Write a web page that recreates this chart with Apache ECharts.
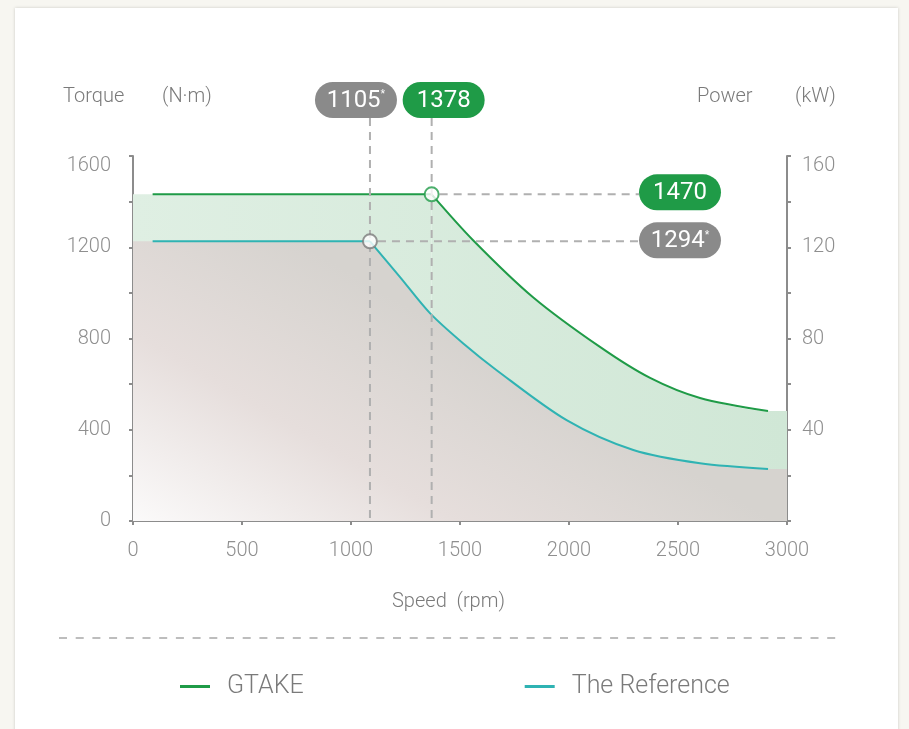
<!DOCTYPE html>
<html>
<head>
<meta charset="utf-8">
<script src="https://cdn.jsdelivr.net/npm/echarts@6/dist/echarts.min.js"></script>
<style>
  html, body { margin: 0; padding: 0; width: 909px; height: 729px; overflow: hidden; background: #f7f6f1; }
  #card { position: absolute; left: 15px; top: 8px; width: 883px; height: 740px; background: #fff; box-shadow: 0 0 3px rgba(0, 0, 0, 0.18); }
  #chart { position: absolute; left: 0; top: 0; width: 909px; height: 729px; }
</style>
</head>
<body>
<div id="card"></div>
<div id="chart"></div>
<script>
// GTAKE curve: speed (rpm) / torque (N·m), index 1 = corner point
const gtakeSpeed = [90, 1370, 1560, 1835, 2142, 2372, 2601, 2913]
const gtakeTorque = [1432, 1432, 1231, 981, 763, 627, 539, 482]

// reference curve
const refSpeed = [90, 1087, 1225, 1362, 1515, 1668, 1989, 2295, 2601, 2913]
const refTorque = [1226, 1226, 1069, 911, 778, 661, 442, 311, 253, 228]

// callout labels (corner speed / rated value)
const gtakeLabels = ['1378', '1470']
const refLabels = ['1105{s|*}', '1294{s|*}']

const seriesNames = ['GTAKE', 'The Reference']

const GREEN = '#1f9b47'
const TEAL = '#2fb3b3'
const GREY_PILL = '#8a8a8a'
const FONT = 'Roboto'

const SPEED_MAX = 3000
const TORQUE_MAX = 1600
const SMOOTH = 0.3

function pairs(xs, ys) {
  return xs.map((x, i) => [x, ys[i]])
}

// flat part: from the axis to the corner
function flatPart(xs, ys, withAxis) {
  const p = pairs(xs, ys).slice(0, 2)
  return withAxis ? [[0, ys[0]]].concat(p) : p
}

// falling part: from the corner on
function curvePart(xs, ys, withAxis) {
  const p = pairs(xs, ys).slice(1)
  return withAxis ? p.concat([[SPEED_MAX, ys[ys.length - 1]]]) : p
}

const chart = echarts.init(document.getElementById('chart'))

const axisLineStyle = { color: '#8c8c8c', width: 2 }
const labelStyle = { color: '#8f8f8f', fontSize: 20, fontWeight: 300, fontFamily: FONT }

function areaSeries(id, data, smooth, z) {
  return {
    id: id,
    type: 'line',
    data: data,
    smooth: smooth,
    symbol: 'none',
    lineStyle: { width: 0 },
    areaStyle: { opacity: 1 },
    silent: true,
    z: z
  }
}

function lineSeries(name, data, smooth, color) {
  return {
    name: name,
    type: 'line',
    data: data,
    smooth: smooth,
    showSymbol: false,
    itemStyle: { color: color },
    lineStyle: { color: color, width: 2 },
    z: 3
  }
}

const topRich = { top: { fontSize: 20, fontWeight: 300, color: '#8f8f8f', padding: [20, 0, 0, 0] } }

const option = {
  animation: false,
  textStyle: { fontFamily: FONT },
  grid: { left: 133, right: 122, top: 156, bottom: 208, containLabel: false },
  legend: {
    data: seriesNames,
    left: 175,
    top: 669,
    icon: 'rect',
    itemWidth: 30,
    itemHeight: 3,
    itemGap: 221,
    selectedMode: false,
    textStyle: { color: '#7a7a7a', fontSize: 25, fontWeight: 300, fontFamily: FONT, padding: [0, 0, 0, 12] }
  },
  xAxis: {
    type: 'value',
    min: 0,
    max: SPEED_MAX,
    interval: 500,
    axisLine: { show: true, lineStyle: axisLineStyle },
    axisTick: { show: true, length: 4, lineStyle: axisLineStyle },
    splitLine: { show: false },
    axisLabel: Object.assign({ margin: 20, formatter: v => String(v) }, labelStyle)
  },
  yAxis: [
    {
      type: 'value',
      min: 0,
      max: TORQUE_MAX,
      interval: 200,
      axisLine: { show: true, lineStyle: axisLineStyle },
      axisTick: { show: true, length: 4, lineStyle: axisLineStyle },
      splitLine: { show: false },
      axisLabel: Object.assign({
        margin: 22,
        formatter: v => (v % 400 !== 0 ? '' : v === TORQUE_MAX ? '{top|' + v + '}' : String(v)),
        rich: topRich
      }, labelStyle)
    },
    {
      type: 'value',
      position: 'right',
      min: 0,
      max: 160,
      interval: 20,
      axisLine: { show: true, onZero: false, lineStyle: axisLineStyle },
      axisTick: { show: true, length: 4, lineStyle: axisLineStyle },
      splitLine: { show: false },
      axisLabel: Object.assign({
        margin: 15,
        formatter: v => (v % 40 !== 0 || v === 0 ? '' : v === 160 ? '{top|' + v + '}' : String(v)),
        rich: topRich
      }, labelStyle)
    }
  ],
  series: [
    areaSeries('gArea0', flatPart(gtakeSpeed, gtakeTorque, true), false, 1),
    areaSeries('gArea1', curvePart(gtakeSpeed, gtakeTorque, true), SMOOTH, 1),
    areaSeries('rArea0', flatPart(refSpeed, refTorque, true), false, 2),
    areaSeries('rArea1', curvePart(refSpeed, refTorque, true), SMOOTH, 2),
    lineSeries(seriesNames[0], flatPart(gtakeSpeed, gtakeTorque), false, GREEN),
    lineSeries(seriesNames[0], curvePart(gtakeSpeed, gtakeTorque), SMOOTH, GREEN),
    lineSeries(seriesNames[1], flatPart(refSpeed, refTorque), false, TEAL),
    lineSeries(seriesNames[1], curvePart(refSpeed, refTorque), SMOOTH, TEAL),
    {
      name: 'corners',
      type: 'scatter',
      symbolSize: 14,
      data: [
        { value: [gtakeSpeed[1], gtakeTorque[1]], itemStyle: { color: '#fff', borderColor: GREEN, borderWidth: 2 } },
        { value: [refSpeed[1], refTorque[1]], itemStyle: { color: '#fff', borderColor: '#7a7a7a', borderWidth: 2 } }
      ],
      z: 10
    }
  ]
}

chart.setOption(option)

// 坐标换算
const toPx = v => chart.convertToPixel({ xAxisIndex: 0, yAxisIndex: 0 }, v)
const g = toPx([gtakeSpeed[1], gtakeTorque[1]])
const r = toPx([refSpeed[1], refTorque[1]])
const origin = toPx([0, 0])
const corner = toPx([SPEED_MAX, TORQUE_MAX])
const refTop = toPx([0, refTorque[0]])

// 填充渐变按整个绘图区计算，两段面积拼接处颜色一致
const greenFill = {
  type: 'linear', global: true,
  x: origin[0], y: 0, x2: corner[0], y2: 0,
  colorStops: [{ offset: 0, color: '#dfefe3' }, { offset: 1, color: '#d0e7d6' }]
}
const greyFill = {
  type: 'linear', global: true,
  x: origin[0], y: origin[1],
  x2: origin[0] + (corner[0] - origin[0]) * 0.25, y2: refTop[1],
  colorStops: [
    { offset: 0, color: '#fbfafa' },
    { offset: 0.5, color: '#e6dedc' },
    { offset: 1, color: '#d6d3cf' }
  ]
}

function pill(cx, cy, text, color) {
  return {
    type: 'group',
    x: cx,
    y: cy,
    z: 20,
    children: [
      { type: 'rect', shape: { x: -41, y: -18, width: 82, height: 36, r: 18 }, style: { fill: color } },
      {
        type: 'text',
        style: {
          text: text,
          x: 0,
          y: 1,
          align: 'center',
          verticalAlign: 'middle',
          textAlign: 'center',
          textVerticalAlign: 'middle',
          fill: '#fff',
          fontSize: 24,
          fontFamily: FONT,
          rich: { s: { fontSize: 12, fill: '#fff', padding: [0, 0, 12, 0] } }
        }
      }
    ]
  }
}

function dashed(x1, y1, x2, y2) {
  return {
    type: 'line',
    z: 5,
    shape: { x1: x1, y1: y1, x2: x2, y2: y2 },
    style: { stroke: '#b0b0b0', lineWidth: 2, lineDash: [8, 6] }
  }
}

function text(x, y, str) {
  return {
    type: 'text',
    style: {
      text: str, x: x, y: y,
      align: 'left', textAlign: 'left',
      verticalAlign: 'middle', textVerticalAlign: 'middle',
      fill: '#7a7a7a', fontSize: 20, fontWeight: 300, fontFamily: FONT
    }
  }
}

const topY = corner[1] - 56
const rightX = corner[0] - 107

chart.setOption({
  series: [
    { id: 'gArea0', areaStyle: { color: greenFill } },
    { id: 'gArea1', areaStyle: { color: greenFill } },
    { id: 'rArea0', areaStyle: { color: greyFill } },
    { id: 'rArea1', areaStyle: { color: greyFill } }
  ],
  graphic: [
    dashed(g[0], topY + 18, g[0], origin[1]),
    dashed(r[0], topY + 18, r[0], origin[1]),
    dashed(g[0] + 8, g[1], rightX - 41, g[1]),
    dashed(r[0] + 8, r[1], rightX - 41, r[1]),
    pill(r[0] - 14, topY, refLabels[0], GREY_PILL),
    pill(g[0] + 12, topY, gtakeLabels[0], GREEN),
    pill(rightX, g[1] - 2, gtakeLabels[1], GREEN),
    pill(rightX, r[1] - 1, refLabels[1], GREY_PILL),
    text(63, 97, 'Torque'),
    text(162, 97, '(N·m)'),
    text(697, 97, 'Power'),
    text(795, 97, '(kW)'),
    text(392, 602, 'Speed  (rpm)'),
    {
      type: 'line',
      shape: { x1: 59, y1: 638, x2: 838, y2: 638 },
      style: { stroke: '#bdbdbd', lineWidth: 2, lineDash: [8, 8.7] }
    }
  ]
})
</script>
</body>
</html>
